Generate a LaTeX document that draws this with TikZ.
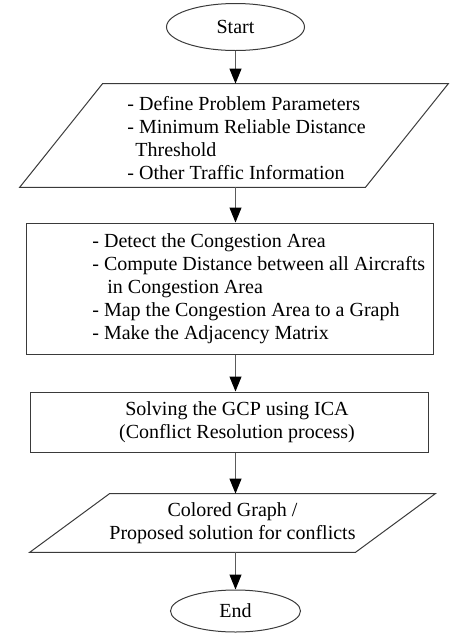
\documentclass[tikz,border=0pt]{standalone}
\usepackage{fontspec}
\setmainfont{Liberation Serif}
\usetikzlibrary{positioning, arrows.meta, shapes.geometric}
\definecolor{fLine}{HTML}{3A3A3A}
\definecolor{fArrow}{HTML}{5A5A5A}
\tikzset{
  flowtext/.style={font=\fontsize{10pt}{11.5pt}\selectfont},
  terminal/.style={ellipse, draw=fLine, line width=0.5pt, inner sep=0pt, flowtext},
  iobody/.style={rectangle, inner sep=0pt, flowtext, align=center},
  slanted/.style={draw=fLine, line width=0.5pt, line join=miter},
  procbox/.style={rectangle, draw=fLine, line width=0.5pt, inner sep=0pt, flowtext, align=center},
  blocktext/.style={flowtext, align=left, inner sep=0pt, anchor=west},
  flowarrow/.style={draw=fArrow, line width=0.5pt, -{Triangle[width=6pt,length=7.5pt,color=black]}}
}

\begin{document}
\begin{tikzpicture}[x=0.5pt, y=-0.5pt]
  \useasboundingbox (0,0) rectangle (450,633);
  % terminals and boxes
  \node[terminal, minimum width=69pt, minimum height=23.5pt] (start) at (235.5,27) {Start};
  \node[iobody, minimum width=172.5pt, minimum height=51.5pt] (params) at (234,135.5) {};
  \draw[slanted] ([xshift=-20.75pt]params.south west) -- ([xshift=-20.75pt]params.south east)
    -- ([xshift=20.75pt]params.north east) -- ([xshift=20.75pt]params.north west) -- cycle;
  \node[blocktext] (paramstxt) at (127,138.5) {- Define Problem Parameters\\
    - Minimum Reliable Distance\\\hspace*{4pt}Threshold\\- Other Traffic Information};
  \node[procbox, minimum width=203.5pt, minimum height=65.5pt] (detect) at (229.5,288.5) {};
  \node[blocktext] (detecttxt) at (92,289) {- Detect the Congestion Area\\
    - Compute Distance between all Aircrafts\\\hspace*{7.5pt}in Congestion Area\\
    - Map the Congestion Area to a Graph\\- Make the Adjacency Matrix};
  \node[procbox, minimum width=199pt, minimum height=30pt] (solve) at (229,422)
    {\hspace*{8pt}Solving the GCP using ICA\\\hspace*{8pt}(Conflict Resolution process)};
  \node[iobody, minimum width=162.5pt, minimum height=29pt] (result) at (232.5,523)
    {Colored Graph /\\Proposed solution for conflicts};
  \draw[slanted] ([xshift=-20pt]result.south west) -- ([xshift=-20pt]result.south east)
    -- ([xshift=20pt]result.north east) -- ([xshift=20pt]result.north west) -- cycle;
  \node[terminal, minimum width=65pt, minimum height=21pt] (stop) at (235.5,611) {End};
  % connectors
  \draw[flowarrow] (start.south) -- (start.south |- params.north);
  \draw[flowarrow] (params.south -| start) -- (detect.north -| start);
  \draw[flowarrow] (detect.south -| start) -- (solve.north -| start);
  \draw[flowarrow] (solve.south -| start) -- (result.north -| start);
  \draw[flowarrow] (result.south -| start) -- (stop.north);
\end{tikzpicture}
\end{document}
